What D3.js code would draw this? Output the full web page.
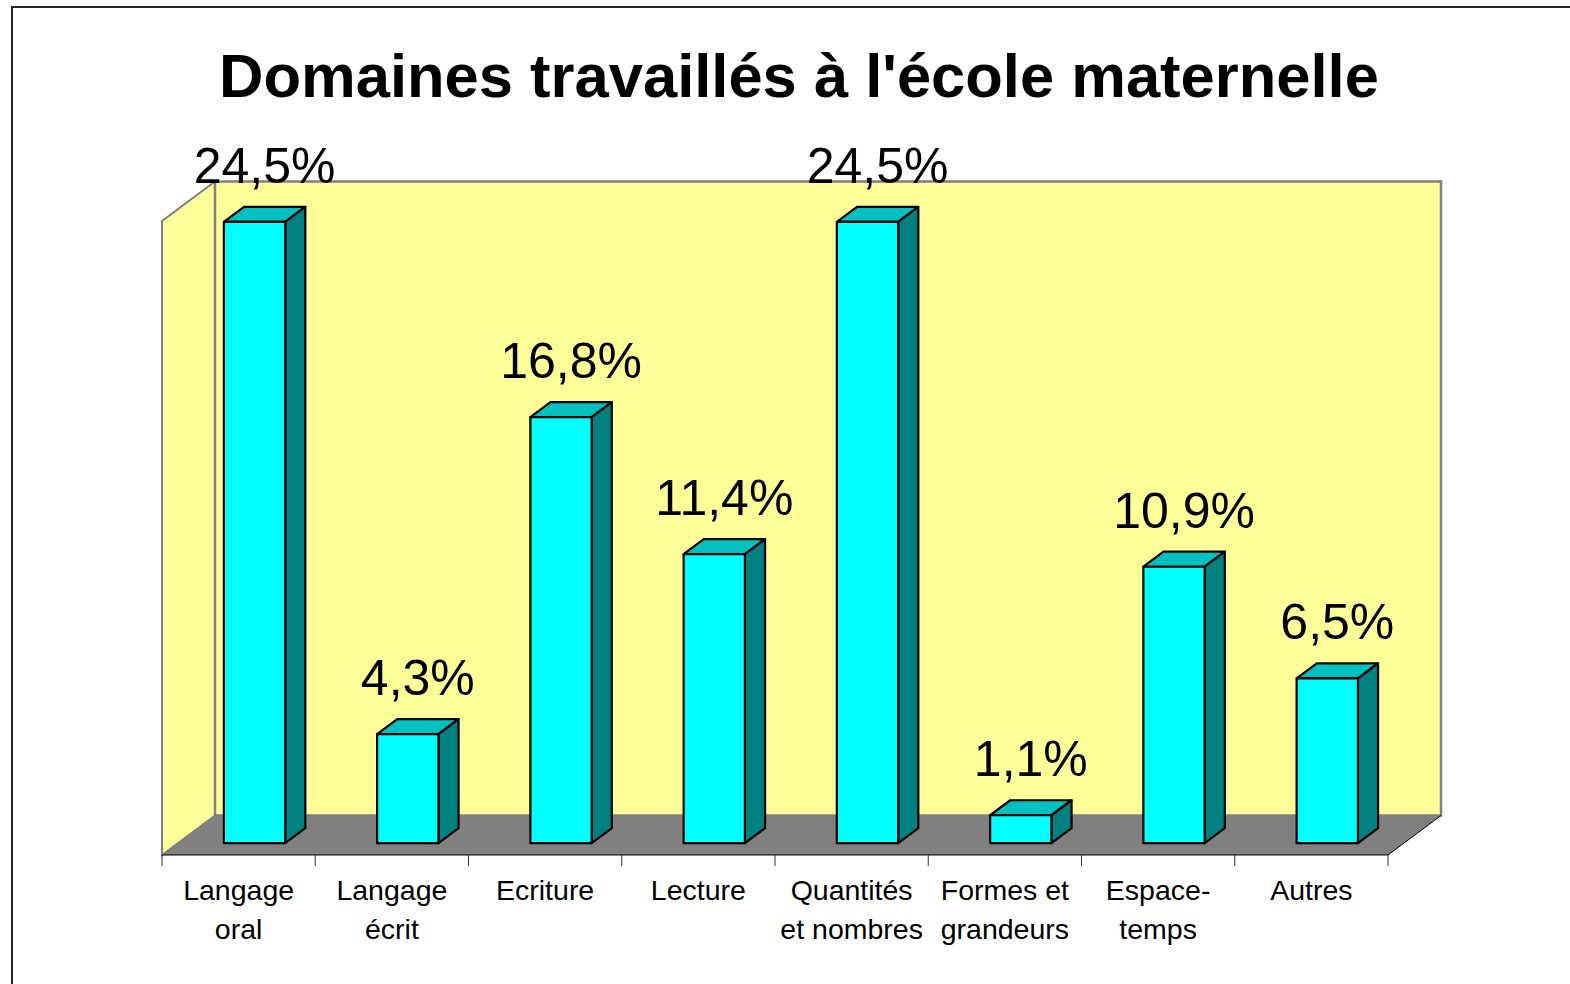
<!DOCTYPE html>
<html>
<head>
<meta charset="utf-8">
<script src="https://cdn.jsdelivr.net/npm/d3@7"></script>
<style>
  body { margin: 0; background: #fff; }
  svg { display: block; font-family: "Liberation Sans", Arial, sans-serif; }
</style>
</head>
<body>
<svg width="1570" height="984"></svg>
<script>
var categories = [
  ["Langage", "oral"],
  ["Langage", "écrit"],
  ["Ecriture"],
  ["Lecture"],
  ["Quantités", "et nombres"],
  ["Formes et", "grandeurs"],
  ["Espace-", "temps"],
  ["Autres"]
];
var values = [24.5, 4.3, 16.8, 11.4, 24.5, 1.1, 10.9, 6.5];
var labels = ["24,5%", "4,3%", "16,8%", "11,4%", "24,5%", "1,1%", "10,9%", "6,5%"];
var yMax = 25;

var svg = d3.select("svg");

// outer frame (runs off the right and bottom edges)
svg.append("rect")
  .attr("x", 12).attr("y", 7)
  .attr("width", 1600).attr("height", 1000)
  .attr("fill", "#fff")
  .attr("stroke", "#222").attr("stroke-width", 2);

svg.append("text")
  .attr("x", 799).attr("y", 97)
  .attr("text-anchor", "middle")
  .attr("font-size", 61.5).attr("font-weight", "bold")
  .text("Domaines travaillés à l'école maternelle");

// oblique projection: depth d in [0,1] shifts by (dx, dy)
var depthX = 53, depthY = -39.5;
var x0 = 162, x1 = 1388, base = 855;

var x = d3.scaleBand()
  .domain(d3.range(categories.length))
  .range([x0, x1])
  .paddingInner(0).paddingOuter(0);

var y = d3.scaleLinear().domain([0, yMax]).range([0, 634]);

function pt(px, val, d) {
  return [px + d * depthX, base - y(val) + d * depthY];
}
function poly(pts) {
  return "M" + pts.map(function(p) { return p[0] + "," + p[1]; }).join("L") + "Z";
}

// left wall
svg.append("path")
  .attr("d", poly([pt(x0, 0, 0), pt(x0, yMax, 0), pt(x0, yMax, 1), pt(x0, 0, 1)]))
  .attr("fill", "#ffff99").attr("stroke", "#808080").attr("stroke-width", 2);

// back wall
svg.append("path")
  .attr("d", poly([pt(x0, 0, 1), pt(x0, yMax, 1), pt(x1, yMax, 1), pt(x1, 0, 1)]))
  .attr("fill", "#ffff99").attr("stroke", "#808080").attr("stroke-width", 2.5);

// floor
svg.append("path")
  .attr("d", poly([pt(x0, 0, 0), pt(x0, 0, 1), pt(x1, 0, 1), pt(x1, 0, 0)]))
  .attr("fill", "#808080").attr("stroke", "none");
svg.append("line")
  .attr("x1", pt(x1, 0, 0)[0]).attr("y1", pt(x1, 0, 0)[1])
  .attr("x2", pt(x1, 0, 1)[0]).attr("y2", pt(x1, 0, 1)[1])
  .attr("stroke", "#000").attr("stroke-width", 1);

// bars
var dFront = 0.30, dBack = 0.68, barFrac = 0.4;
var bw = x.bandwidth() * barFrac;

var bars = svg.append("g").selectAll("g")
  .data(values)
  .join("g");

bars.each(function(v, i) {
  var g = d3.select(this);
  var cx = x(i) + x.bandwidth() / 2;
  var L = cx - bw / 2, R = cx + bw / 2;
  // top
  g.append("path")
    .attr("d", poly([pt(L, v, dFront), pt(L, v, dBack), pt(R, v, dBack), pt(R, v, dFront)]))
    .attr("fill", "#00c0c0").attr("stroke", "#000").attr("stroke-width", 2.2).attr("stroke-linejoin", "round");
  // side
  g.append("path")
    .attr("d", poly([pt(R, 0, dFront), pt(R, v, dFront), pt(R, v, dBack), pt(R, 0, dBack)]))
    .attr("fill", "#008080").attr("stroke", "#000").attr("stroke-width", 2.2).attr("stroke-linejoin", "round");
  // front
  g.append("path")
    .attr("d", poly([pt(L, 0, dFront), pt(L, v, dFront), pt(R, v, dFront), pt(R, 0, dFront)]))
    .attr("fill", "#00ffff").attr("stroke", "#000").attr("stroke-width", 2.2).attr("stroke-linejoin", "round");
  // value label
  var lp = pt(cx, v, (dFront + dBack) / 2);
  var tp = pt(cx, v, dBack);
  g.append("text")
    .attr("x", lp[0]).attr("y", tp[1] - 24)
    .attr("text-anchor", "middle")
    .attr("font-size", 50)
    .text(labels[i]);
});

// axis line and ticks
svg.append("line")
  .attr("x1", x0).attr("x2", x1).attr("y1", base).attr("y2", base)
  .attr("stroke", "#000").attr("stroke-width", 1);
svg.append("g").selectAll("line")
  .data(d3.range(categories.length + 1))
  .join("line")
  .attr("x1", function(i) { return x0 + i * x.bandwidth(); })
  .attr("x2", function(i) { return x0 + i * x.bandwidth(); })
  .attr("y1", base).attr("y2", base + 11)
  .attr("stroke", "#333").attr("stroke-width", 1);

// category labels
svg.append("g").selectAll("text")
  .data(categories)
  .join("text")
  .attr("text-anchor", "middle")
  .attr("font-size", 28.5)
  .attr("transform", function(d, i) { return "translate(" + (x(i) + x.bandwidth() / 2) + ",900)"; })
  .selectAll("tspan")
  .data(function(d) { return d; })
  .join("tspan")
  .attr("x", 0)
  .attr("y", function(d, j) { return j * 39; })
  .text(function(d) { return d; });
</script>
</body>
</html>
